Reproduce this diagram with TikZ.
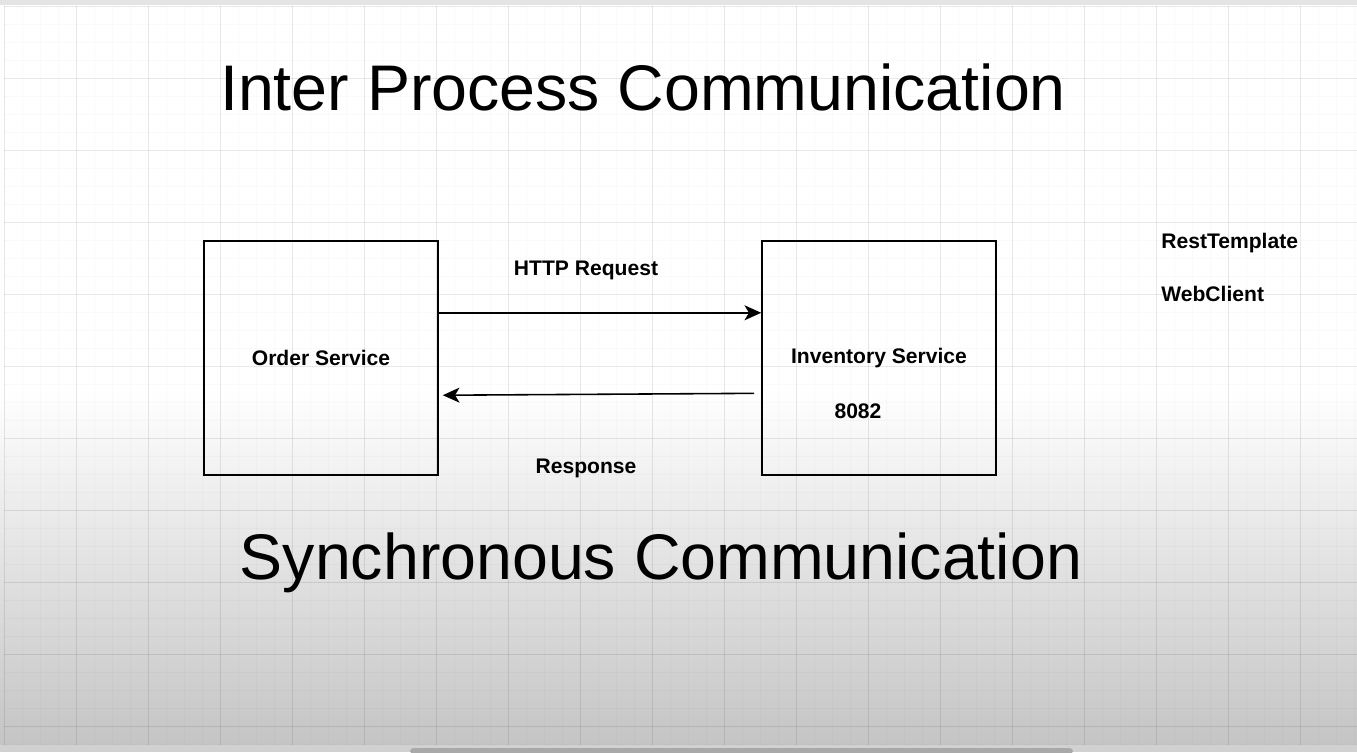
\documentclass[tikz,border=0pt]{standalone}
\usepackage{fontspec}
\setmainfont{Liberation Sans}
\usetikzlibrary{arrows.meta,positioning,calc}
\definecolor{barlight}{HTML}{E4E4E4}
\definecolor{scrollgray}{HTML}{A9A9A9}

\begin{document}
\begin{tikzpicture}[
  x=0.02cm, y=-0.02cm,
  svc/.style={rectangle, draw=black, line width=0.9pt, minimum width=4.68cm,
              minimum height=4.68cm, font=\fontsize{12}{14}\selectfont\bfseries},
  lbl/.style={font=\fontsize{12}{14}\selectfont\bfseries, inner sep=0pt, anchor=base},
  headline/.style={font=\fontsize{36.7}{44}\selectfont, inner sep=0pt, anchor=base},
  arr/.style={-{Stealth[length=9.5pt,width=8.5pt,inset=2.5pt]}, line width=0.9pt},
  minorline/.style={black, opacity=0.018, line width=0.4pt},
  majorline/.style={black, opacity=0.07, line width=0.5pt},
]
  \useasboundingbox (0,0) rectangle (1357,752);
  % canvas
  \fill[white] (0,0) rectangle (1357,752);
  \shade[top color=white, bottom color=white!77!black] (0,390) rectangle (1357,745);
  \fill[white!82!black] (0,745) rectangle (1357,752);
  \fill[barlight] (0,0) rectangle (1357,5);
  \foreach \x in {4,22,...,1357} \draw[minorline] (\x,6) -- (\x,745);
  \foreach \y in {6,24,...,745} \draw[minorline] (4,\y) -- (1357,\y);
  \foreach \x in {4,76,...,1357} \draw[majorline] (\x,6) -- (\x,745);
  \foreach \y in {6,78,...,745} \draw[majorline] (4,\y) -- (1357,\y);
  \fill[scrollgray, rounded corners=2pt] (410,748) rectangle (1073,754);

  % titles
  \node[headline] (ipc) at (643,110) {Inter Process Communication};
  \node[headline] (sync) at (661,579) {Synchronous Communication};

  % services
  \node[svc] (order) at (321,358) {Order Service};
  \node[svc] (inv) at (879,358) {Inventory Service};
  \node[lbl] (port) at (858,418) {8082};

  % calls
  \node[lbl] (req) at (586,275) {HTTP Request};
  \node[lbl] (resp) at (586,473) {Response};
  \draw[arr] ($(order.north east)!0.308!(order.south east)$) -- ($(inv.north west)!0.308!(inv.south west)$);
  \draw[arr] ($(inv.north west)!0.65!(inv.south west)+(-7,0)$) -- ($(order.north east)!0.658!(order.south east)+(4,0)$);

  % clients
  \node[lbl, anchor=base west] (rest) at (1161,248) {RestTemplate};
  \node[lbl, anchor=base west] (web) at (1161,301) {WebClient};
\end{tikzpicture}
\end{document}
